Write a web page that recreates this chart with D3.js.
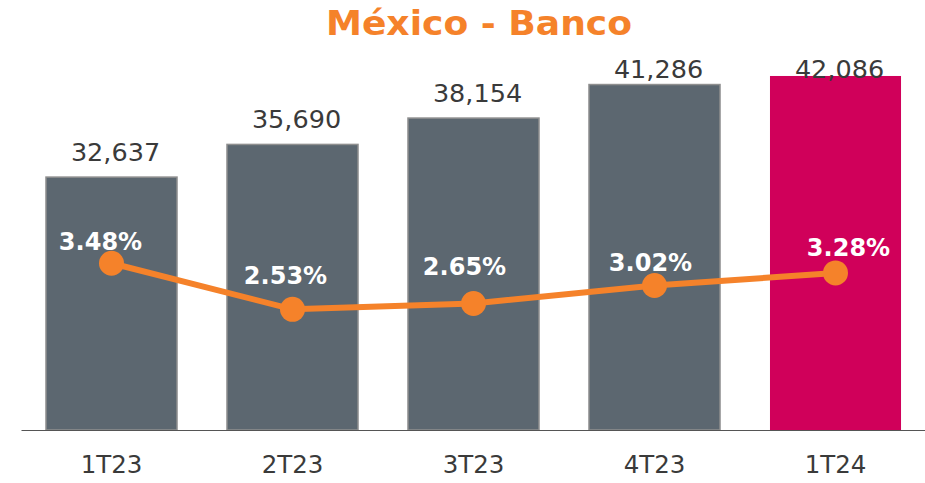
<!DOCTYPE html>
<html>
<head>
<meta charset="utf-8">
<script src="https://cdn.jsdelivr.net/npm/d3@7"></script>
<style>
  html, body { margin: 0; padding: 0; background: #ffffff; }
  svg { display: block; }
</style>
</head>
<body>
<svg id="chart" width="925" height="483"></svg>
<script>
// ---- data ----
const categories = ["1T23", "2T23", "3T23", "4T23", "1T24"];
const barValues = [32637, 35690, 38154, 41286, 42086];
const rateValues = [3.48, 2.53, 2.65, 3.02, 3.28];
const highlightCategory = "1T24";
const title = "México - Banco";

// ---- layout ----
const W = 925, H = 483;
const baseY = 430;
const pctLabelNudge = [[-11, -13], [-7, -25], [-9, -28], [-4, -15], [13, -17]];

const svg = d3.select("#chart");
const font = "'DejaVu Sans', Verdana, sans-serif";

const x = d3.scaleBand().domain(categories).range([21, 926])
  .paddingInner(0.276).paddingOuter(0.138);
const yBar = d3.scaleLinear().domain([9000, 49000]).range([baseY, 2]);
const yPct = d3.scaleLinear().domain([0, 8]).range([432, 44]);

// title
svg.append("text")
  .attr("x", 479).attr("y", 35)
  .attr("text-anchor", "middle")
  .attr("font-family", font).attr("font-weight", "bold")
  .attr("font-size", 34)
  .attr("textLength", 306).attr("lengthAdjust", "spacingAndGlyphs")
  .attr("fill", "#f5822a")
  .text(title);

// bars
svg.append("g").selectAll("rect")
  .data(categories.map((c, i) => ({ c, v: barValues[i] })))
  .join("rect")
  .attr("x", d => x(d.c))
  .attr("y", d => yBar(d.v))
  .attr("width", x.bandwidth())
  .attr("height", d => baseY - yBar(d.v))
  .attr("fill", d => d.c === highlightCategory ? "#d0005a" : "#5c6770")
  .attr("stroke", d => d.c === highlightCategory ? "none" : "#8f8f8f")
  .attr("stroke-width", 1.5);

// bar value labels
const fmt = d3.format(",");
svg.append("g").selectAll("text")
  .data(categories.map((c, i) => ({ c, v: barValues[i] })))
  .join("text")
  .attr("x", d => x(d.c) + x.bandwidth() / 2 + 4)
  .attr("y", d => Math.max(yBar(d.v) - 16, 78))
  .attr("text-anchor", "middle")
  .attr("font-family", font)
  .attr("font-size", 25.5)
  .attr("fill", "#3a3a3a")
  .text(d => fmt(d.v));

// x axis
const axis = svg.append("g")
  .attr("transform", `translate(0,${baseY})`)
  .call(d3.axisBottom(x).tickSize(0).tickPadding(0).tickSizeOuter(0));
axis.select(".domain").attr("stroke", "#555").attr("stroke-width", 1.2);
axis.selectAll(".tick text")
  .attr("font-family", font).attr("font-size", 24.5)
  .attr("fill", "#3a3a3a")
  .attr("dy", null)
  .attr("y", 43);

// line
const pts = categories.map((c, i) => ({ c, v: rateValues[i], i }));
svg.append("path")
  .datum(pts)
  .attr("fill", "none")
  .attr("stroke", "#f5822a")
  .attr("stroke-width", 6)
  .attr("d", d3.line().x(d => x(d.c) + x.bandwidth() / 2).y(d => yPct(d.v)));

svg.append("g").selectAll("circle")
  .data(pts)
  .join("circle")
  .attr("cx", d => x(d.c) + x.bandwidth() / 2)
  .attr("cy", d => yPct(d.v))
  .attr("r", 12.5)
  .attr("fill", "#f5822a");

svg.append("g").selectAll("text")
  .data(pts)
  .join("text")
  .attr("x", d => x(d.c) + x.bandwidth() / 2 + pctLabelNudge[d.i][0])
  .attr("y", d => yPct(d.v) + pctLabelNudge[d.i][1])
  .attr("text-anchor", "middle")
  .attr("font-family", font).attr("font-weight", "bold")
  .attr("font-size", 24)
  .attr("fill", "#ffffff")
  .text(d => d.v.toFixed(2) + "%");
</script>
</body>
</html>
